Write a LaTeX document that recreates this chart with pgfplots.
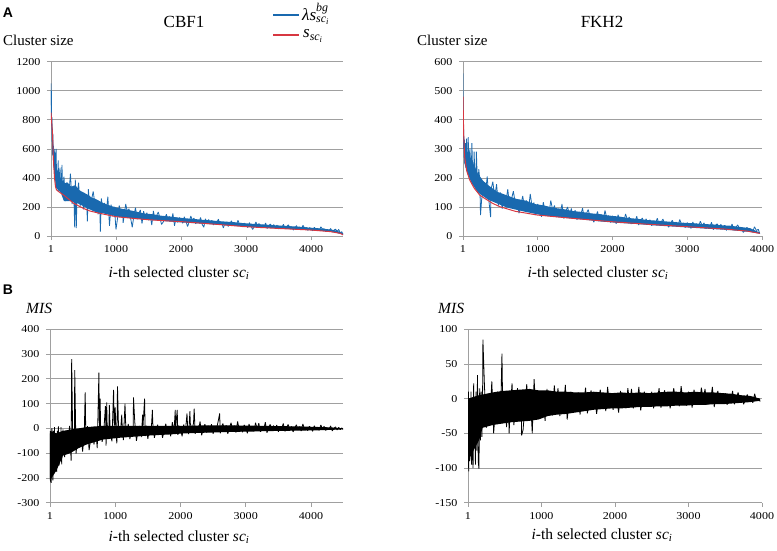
\documentclass[border=0pt]{standalone}
\usepackage{fontspec}
\setmainfont{Liberation Serif}
\newfontfamily\tickfont[FakeStretch=1.15]{Liberation Serif}
\newfontfamily\sansfnt{Liberation Sans}
\usepackage{amsmath}
\usepackage{pgfplots}
\pgfplotsset{compat=1.18}
\definecolor{xblue}{RGB}{25,105,175}
\definecolor{xred}{RGB}{215,55,65}
\definecolor{xgrid}{RGB}{160,160,160}
\pgfplotsset{excel/.style={
  scale only axis,
  axis x line=bottom, axis y line=left,
  axis line style={draw=xgrid, line width=0.7pt, -},
  ymajorgrids, grid style={draw=xgrid, line width=0.7pt},
  major tick style={draw=xgrid, line width=0.7pt},
  tick align=outside, major tick length=4pt,
  xtick={1,1000,2000,3000,4000},
  xmin=1,
  scaled ticks=false,
  /pgf/number format/assume math mode=true,
  /pgf/number format/set thousands separator={},
  tick label style={font=\tickfont\fontsize{10.5}{12}\selectfont},
  yticklabel style={xshift=-3pt},
  xticklabel style={yshift=-2pt},
  anchor=south west,
}}
\tikzset{noisy/.style={line width=0.8pt, line join=bevel}}
\newcommand{\xlab}{\fontsize{15.5}{16}\selectfont\textit{i}-th selected cluster \textit{sc}$_{\textit{i}}$}
\begin{document}
\begin{tikzpicture}[x=1pt,y=1pt]
\path[use as bounding box] (0,0) rectangle (777,550);
% ---------- top left CBF1
\begin{axis}[excel, at={(51pt,314pt)}, width=292pt, height=174.3pt,
  xmax=4490, ymin=0, ymax=1200, ytick={0,200,...,1200}]
% dense core of the blue band: upper edge, then lower edge back
\addplot[fill=xblue, draw=none] coordinates {
(1,1000)(30,650)(80,480)(115,430)(150,400)(200,360)(250,370)(312,340)(375,350)(437,315)(500,300)(562,285)(625,265)(687,255)(750,240)(812,225)(937,205)(1062,190)(1187,180)(1312,168)(1437,155)(1562,150)(1687,140)(1812,135)(1937,128)(2062,122)(2187,118)(2312,112)(2437,108)(2562,103)(2687,99)(2812,95)(2937,89)(3062,85)(3187,82)(3312,78)(3437,74)(3562,71)(3687,67)(3812,64)(3937,59)(4062,55)(4187,50)(4312,44)(4400,36)(4490,18)
(4490,10)(4312,30)(4062,38)(3812,45)(3562,50)(3312,56)(3062,62)(2812,70)(2562,78)(2312,85)(2062,92)(1812,100)(1562,110)(1312,120)(1062,130)(812,155)(687,165)(562,190)(437,220)(312,240)(200,240)(150,300)(80,330)(30,560)(1,850)
};
\addplot[xblue, noisy] coordinates {
(1,1050)(4,900)(7,1000)(10,760)(14,820)(18,650)(22,740)(26,560)(30,700)(35,520)(40,620)(45,470)(50,600)(55,420)(60,580)(65,380)(70,560)(75,350)
(80,600)(88,340)(96,450)(104,390)(112,520)(120,310)(130,420)(140,470)(150,300)(160,380)(170,490)(180,290)(190,350)
(200,409)(225,241)(250,346)(275,283)(300,430)(325,220)(350,325)(365,60)(375,388)(390,55)(400,262)(425,367)
(450,206)(475,299)(500,183)(525,268)(550,237)(560,100)(575,322)(600,191)(625,253)(650,307)(675,222)
(700,234)(725,150)(750,204)(760,30)(775,258)(800,180)(825,228)(850,162)(875,270)(900,70)(925,216)
(950,135)(975,200)(1000,45)(1025,125)(1050,210)(1075,155)(1100,185)(1110,90)(1125,140)(1150,220)(1175,165)
(1200,187)(1225,123)(1250,60)(1275,139)(1300,195)(1325,115)(1350,155)(1375,179)(1400,85)(1425,171)
(1450,119)(1475,161)(1500,109)(1525,147)(1550,75)(1575,172)(1600,112)(1625,140)(1650,165)(1675,126)
(1700,80)(1725,95)(1750,122)(1775,149)(1800,110)(1825,134)(1850,101)(1875,155)(1900,70)(1925,128)
(1950,93)(1975,127)(2000,114)(2025,88)(2050,132)(2075,104)(2100,65)(2125,96)(2150,137)(2175,109)
(2200,123)(2225,85)(2250,109)(2275,94)(2300,128)(2325,80)(2350,60)(2375,118)(2400,90)(2425,114)
(2450,83)(2475,109)(2500,76)(2525,100)(2550,92)(2575,116)(2600,78)(2625,96)(2650,55)(2675,87)
(2700,95)(2725,66)(2750,85)(2775,104)(2800,77)(2825,93)(2850,70)(2875,108)(2900,81)(2925,89)
(2950,62)(2975,88)(3000,78)(3025,58)(3050,92)(3075,70)(3100,45)(3125,64)(3150,96)(3175,74)
(3200,86)(3225,56)(3250,75)(3275,63)(3300,90)(3325,52)(3350,71)(3375,82)(3400,60)(3425,79)
(3450,53)(3475,75)(3500,48)(3525,68)(3550,60)(3575,80)(3600,50)(3625,64)(3650,77)(3675,57)
(3700,64)(3725,41)(3750,56)(3775,71)(3800,49)(3825,62)(3850,44)(3875,74)(3900,53)(3925,59)
(3950,39)(3975,57)(4000,50)(4025,36)(4050,60)(4075,44)(4100,53)(4125,40)(4150,63)(4175,47)
(4200,50)(4225,30)(4250,42)(4275,35)(4300,52)(4325,27)(4350,40)(4375,47)(4400,32)(4425,45)
(4450,18)(4470,30)(4490,12)
};
\addplot[xred, line width=1pt] coordinates {
(1,850)(15,760)(25,700)(35,560)(45,470)(55,400)(70,340)(85,318)(120,305)(200,280)(250,262)(350,225)(500,190)(600,172)(750,156)(1000,133)(1250,122)(1500,112)(1750,105)(2000,99)(2500,82)(3000,64)(3500,52)(4000,41)(4300,30)(4450,18)(4490,8)
};
\end{axis}
% ---------- top right FKH2
\begin{axis}[excel, at={(463pt,314pt)}, width=299pt, height=174.3pt,
  xmax=4000, ymin=0, ymax=600, ytick={0,100,...,600}]
\addplot[fill=xblue, draw=none] coordinates {
(1,500)(20,310)(60,290)(120,260)(200,215)(270,190)(337,175)(460,152)(587,140)(712,128)(837,122)(962,110)(1087,105)(1212,97)(1337,93)(1462,86)(1587,83)(1712,78)(1837,75)(1962,70)(2087,67)(2212,62)(2337,59)(2462,55)(2587,53)(2712,50)(2837,48)(2962,45)(3087,44)(3212,41)(3337,40)(3462,37)(3587,35)(3712,31)(3837,27)(3970,12)
(3970,8)(3837,14)(3587,20)(3337,24)(3087,28)(2837,32)(2587,36)(2337,41)(2087,45)(1837,50)(1587,57)(1337,63)(1087,70)(837,83)(587,98)(337,125)(200,150)(120,180)(60,215)(20,250)(1,470)
};
\addplot[xblue, noisy] coordinates {
(1,560)(3,330)(6,420)(9,300)(12,340)(16,270)(20,330)(25,250)(30,290)(36,320)(42,235)(48,335)(55,260)(62,215)(70,340)(78,280)(86,205)(94,300)(102,240)(110,190)(120,320)(130,220)(140,180)(150,290)(160,200)(170,165)(180,290)(190,210)(200,160)(212,230)
(225,196)(235,72)(250,124)(275,169)(300,142)(325,205)(350,115)(370,65)(375,160)(400,187)(425,133)(450,178)
(475,105)(500,150)(525,94)(550,135)(575,120)(600,161)(625,98)(650,128)(675,154)(700,113)
(725,125)(750,78)(775,108)(800,138)(825,95)(850,122)(875,85)(900,145)(925,101)(950,115)
(975,72)(1000,110)(1025,96)(1050,66)(1075,116)(1100,84)(1125,101)(1150,75)(1175,122)(1200,90)
(1225,105)(1250,65)(1275,90)(1300,75)(1325,110)(1350,60)(1375,85)(1400,100)(1425,70)(1450,95)
(1475,63)(1500,89)(1525,56)(1550,80)(1575,72)(1600,96)(1625,58)(1650,76)(1675,91)(1700,67)
(1725,76)(1750,47)(1775,65)(1800,84)(1825,57)(1850,74)(1875,51)(1900,88)(1925,61)(1950,70)
(1975,46)(2000,69)(2025,60)(2050,42)(2075,73)(2100,53)(2125,64)(2150,47)(2175,76)(2200,56)
(2225,65)(2250,41)(2275,56)(2300,47)(2325,68)(2350,38)(2375,53)(2400,62)(2425,44)(2450,59)
(2475,40)(2500,56)(2525,35)(2550,51)(2575,45)(2600,61)(2625,37)(2650,48)(2675,58)(2700,42)
(2725,49)(2750,30)(2775,42)(2800,54)(2825,37)(2850,48)(2875,33)(2900,57)(2925,39)(2950,45)
(2975,29)(3000,46)(3025,39)(3050,26)(3075,48)(3100,34)(3125,42)(3150,30)(3175,51)(3200,36)
(3225,45)(3250,25)(3275,37)(3300,30)(3325,47)(3350,22)(3375,35)(3400,42)(3425,27)(3450,40)
(3475,23)(3500,37)(3525,19)(3550,32)(3575,28)(3600,41)(3625,20)(3650,30)(3675,38)(3700,25)
(3725,26)(3750,12)(3775,21)(3800,30)(3825,17)(3850,25)(3875,14)(3900,32)(3925,19)(3950,23)
(3970,8)
};
\addplot[xred, line width=1pt] coordinates {
(1,480)(10,350)(23,273)(50,225)(90,193)(150,165)(224,141)(300,128)(400,112)(493,101)(700,85)(1000,72)(1500,60)(2000,49)(2500,40)(3000,32)(3500,24)(3800,17)(3970,9)
};
\end{axis}
% ---------- bottom left MIS
\begin{axis}[excel, at={(50pt,47.3pt)}, width=293pt, height=173.4pt,
  xmax=4490, ymin=-300, ymax=400, ytick={-300,-200,...,400}]
\addplot[fill=black, draw=none] coordinates {
(1,-10)(100,-20)(200,-10)(312,-5)(437,0)(562,5)(687,8)(812,10)(1062,10)(1312,10)(1562,10)(1812,10)(2062,10)(2312,12)(2562,12)(2812,12)(3062,11)(3312,10)(3562,9)(3812,8)(4062,6)(4312,4)(4490,0)
(4490,-4)(4312,-6)(4062,-8)(3812,-9)(3562,-10)(3312,-11)(3062,-13)(2812,-14)(2562,-16)(2312,-18)(2062,-20)(1812,-25)(1562,-28)(1312,-33)(1062,-38)(812,-45)(687,-55)(562,-65)(437,-80)(312,-100)(200,-110)(100,-170)(1,-210)
};
\addplot[black, noisy] coordinates {
(1,-20)(4,-200)(7,-30)(10,-215)(14,-120)(18,-220)(22,-40)(26,-160)(30,0)(35,-190)(40,-90)(45,-210)(50,-10)(55,-140)(60,-180)(65,-40)(70,5)(75,-170)(80,-100)(88,-20)(96,-160)(104,-175)(112,-10)(120,-90)(130,8)(140,-150)(150,-60)(160,-130)(170,5)(180,-145)(190,-50)
(200,-4)(225,-116)(250,-46)(275,-88)(300,10)(325,-130)(333,280)(350,-60)(375,-18)(380,235)(400,-102)(425,-32)
(450,-77)(475,-8)(500,-94)(525,-31)(540,145)(545,65)(550,-54)(575,9)(600,-88)(625,-42)(650,-2)(675,-65)
(700,-6)(725,-80)(750,225)(760,-33)(770,120)(775,15)(800,-54)(825,-12)(850,90)(860,-70)(870,105)(875,25)(900,-43)(910,95)(925,-22)
(950,-52)(975,155)(985,4)(1000,85)(1010,-17)(1025,-60)(1035,170)(1050,12)(1075,-34)(1100,55)(1110,-9)(1125,-47)(1150,100)(1160,21)(1175,-26)
(1200,18)(1225,-43)(1250,-5)(1275,-28)(1280,125)(1300,25)(1325,-50)(1350,-13)(1375,10)(1400,-35)(1420,55)(1425,3)
(1450,120)(1460,-31)(1475,11)(1500,-42)(1525,-3)(1550,-17)(1570,75)(1575,22)(1600,-38)(1625,-10)(1650,15)(1675,-24)
(1700,6)(1725,-38)(1750,-10)(1775,19)(1800,-22)(1825,3)(1850,-32)(1875,25)(1900,-16)(1920,75)(1925,-3)
(1950,75)(1960,-26)(1975,11)(2000,-4)(2025,-32)(2050,16)(2075,-15)(2100,60)(2110,2)(2125,-23)(2145,70)(2150,22)(2175,-9)
(2200,22)(2210,80)(2225,-22)(2250,6)(2275,-11)(2300,28)(2325,-28)(2350,0)(2375,17)(2400,-17)(2425,11)
(2450,-14)(2475,17)(2500,-22)(2525,7)(2550,-4)(2575,25)(2600,60)(2610,-20)(2625,2)(2650,20)(2675,-9)
(2700,13)(2725,-22)(2750,1)(2775,23)(2800,-10)(2825,11)(2850,-17)(2875,28)(2900,-5)(2925,6)
(2950,-16)(2975,14)(3000,3)(3025,-20)(3050,18)(3075,-7)(3100,7)(3125,-13)(3150,23)(3175,-2)
(3200,21)(3225,-14)(3250,8)(3275,-5)(3300,25)(3325,-18)(3350,4)(3375,16)(3400,-9)(3425,12)
(3450,-8)(3475,14)(3500,-14)(3525,7)(3550,-1)(3575,20)(3600,-12)(3625,3)(3650,16)(3675,-5)
(3700,8)(3725,-14)(3750,0)(3775,15)(3800,-6)(3825,7)(3850,-11)(3875,18)(3900,-3)(3925,4)
(3950,-9)(3975,8)(4000,2)(4025,-12)(4050,11)(4075,-4)(4100,4)(4125,-8)(4150,14)(4175,-1)
(4200,8)(4225,-8)(4250,2)(4275,-4)(4300,10)(4325,-10)(4350,0)(4375,6)(4400,-6)(4425,4)
(4450,-5)(4470,2)(4490,-4)
};
\end{axis}
% ---------- bottom right MIS
\begin{axis}[excel, at={(468pt,47.3pt)}, width=294pt, height=173.4pt,
  xmax=4000, ymin=-150, ymax=100, ytick={-150,-100,...,100}]
\addplot[fill=black, draw=none] coordinates {
(1,0)(150,5)(200,6)(337,9)(462,11)(587,12)(712,13)(837,14)(962,12)(1087,12)(1212,10)(1337,10)(1462,9)(1587,9)(1712,10)(1837,9)(1962,8)(2087,9)(2212,8)(2337,9)(2462,8)(2587,9)(2712,10)(2837,10)(2962,9)(3087,10)(3212,9)(3337,9)(3462,8)(3587,7)(3712,5)(3837,4)(3975,0)
(3975,-3)(3837,-5)(3712,-6)(3587,-7)(3462,-8)(3337,-8)(3212,-9)(3087,-9)(2962,-10)(2837,-10)(2712,-11)(2587,-11)(2462,-12)(2337,-12)(2212,-13)(2087,-14)(1962,-14)(1837,-15)(1712,-16)(1587,-18)(1462,-20)(1337,-22)(1212,-23)(1087,-25)(962,-30)(837,-32)(712,-33)(587,-34)(462,-36)(337,-38)(200,-42)(150,-60)(1,-90)
};
\addplot[black, noisy] coordinates {
(1,5)(3,-100)(6,10)(10,-105)(14,-10)(18,-60)(22,0)(26,-90)(30,-5)(36,-80)(42,10)(48,-95)(55,-15)(62,-85)(70,-100)(78,22)(86,-70)(94,0)(102,-95)(110,10)(120,-75)(130,34)(140,-90)(150,-101)(160,15)(170,-60)(180,10)(190,-55)(200,15)(204,85)
(225,18)(250,-42)(275,-5)(300,-27)(325,25)(350,-50)(375,-12)(400,10)(425,-35)(450,3)(463,65)
(475,-31)(500,11)(525,-41)(550,-3)(560,-50)(575,-17)(600,22)(625,-38)(650,-10)(675,15)(700,-24)
(725,6)(730,-53)(750,-45)(775,-12)(800,21)(825,-27)(850,2)(875,-50)(900,28)(925,-19)(950,-5)
(975,-27)(1000,9)(1025,-5)(1050,-32)(1075,14)(1100,-16)(1125,0)(1150,-24)(1175,19)(1200,-10)
(1225,15)(1250,-25)(1275,0)(1300,-15)(1325,20)(1350,-30)(1375,-5)(1400,10)(1425,-20)(1450,5)
(1475,-16)(1500,9)(1525,-23)(1550,1)(1575,-8)(1600,16)(1625,-21)(1650,-4)(1675,12)(1700,-12)
(1725,5)(1750,-22)(1775,-4)(1800,13)(1825,-12)(1850,3)(1875,-18)(1900,17)(1925,-8)(1950,0)
(1975,-16)(2000,8)(2025,-1)(2050,-20)(2075,11)(2100,-9)(2125,2)(2150,-14)(2175,15)(2200,-5)
(2225,14)(2250,-14)(2275,3)(2300,-7)(2325,17)(2350,-17)(2375,0)(2400,10)(2425,-10)(2450,7)
(2475,-9)(2500,10)(2525,-14)(2550,4)(2575,-3)(2600,15)(2625,-13)(2650,1)(2675,12)(2700,-6)
(2725,8)(2750,-14)(2775,0)(2800,15)(2825,-6)(2850,7)(2875,-11)(2900,18)(2925,-3)(2950,4)
(2975,-10)(3000,10)(3025,3)(3050,-13)(3075,13)(3100,-4)(3125,6)(3150,-8)(3175,16)(3200,-1)
(3225,14)(3250,-9)(3275,5)(3300,-3)(3325,17)(3350,-12)(3375,3)(3400,11)(3425,-6)(3450,8)
(3475,-6)(3500,8)(3525,-9)(3550,3)(3575,-1)(3600,11)(3625,-8)(3650,1)(3675,9)(3700,-3)
(3725,3)(3750,-8)(3775,-1)(3800,6)(3825,-4)(3850,2)(3875,-6)(3900,7)(3925,-3)(3950,0)
(3975,-4)
};
\end{axis}
% ---------- texts
\node[font=\sansfnt\bfseries\fontsize{14}{14}\selectfont] at (8,537) {A};
\node[font=\sansfnt\bfseries\fontsize{14}{14}\selectfont] at (8,260) {B};
\node[font=\fontsize{17}{17}\selectfont] at (184,528) {CBF1};
\node[font=\fontsize{17}{17}\selectfont] at (602,528) {FKH2};
\node[font=\fontsize{15}{15}\selectfont, anchor=west, inner sep=0pt] at (3,510) {Cluster size};
\node[font=\fontsize{15}{15}\selectfont, anchor=west, inner sep=0pt] at (417,510) {Cluster size};
\node[font=\fontsize{15.5}{16}\selectfont\itshape, anchor=west, inner sep=0pt] at (26,242) {MIS};
\node[font=\fontsize{15.5}{16}\selectfont\itshape, anchor=west, inner sep=0pt] at (438,242) {MIS};
\node at (179,277) {\xlab};
\node at (598,277) {\xlab};
\node at (179,13) {\xlab};
\node at (602,15) {\xlab};
% legend
\draw[xblue, line width=1.2pt] (273,535) -- (299,535);
\draw[xred, line width=1.2pt] (273,515) -- (299,515);
\node[anchor=west, inner sep=0pt, font=\fontsize{17}{17}\selectfont] at (302,536) {\textit{λs}$^{\textit{bg}}_{\textit{sc}_{\textit{i}}}$};
\node[anchor=west, inner sep=0pt, font=\fontsize{17}{17}\selectfont] at (303,514) {$\textit{s}_{\textit{sc}_{\textit{i}}}$};
\end{tikzpicture}
\end{document}
